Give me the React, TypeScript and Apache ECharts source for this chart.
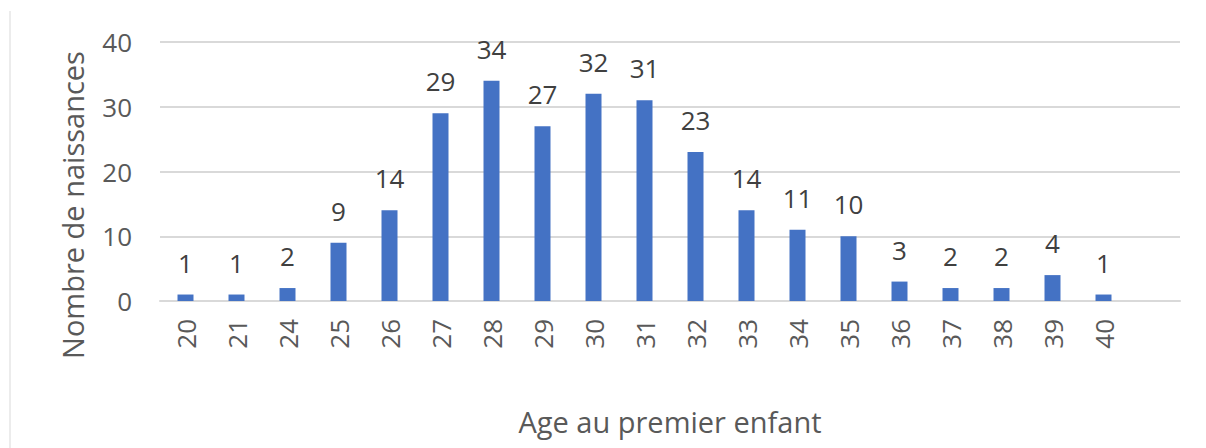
import React, { useEffect, useRef } from "react";
import * as echarts from "echarts";

const ages = ["20", "21", "24", "25", "26", "27", "28", "29", "30", "31", "32", "33", "34", "35", "36", "37", "38", "39", "40", ""];
const births = [1, 1, 2, 9, 14, 29, 34, 27, 32, 31, 23, 14, 11, 10, 3, 2, 2, 4, 1, null];
const yTicks = { min: 0, max: 40, interval: 10 };
const xTitle = "Age au premier enfant";
const yTitle = "Nombre de naissances";

const FONT = "'Open Sans', sans-serif";

export default function App() {
  const ref = useRef<HTMLDivElement>(null);
  useEffect(() => {
    if (!ref.current) return;
    const chart = echarts.init(ref.current, null, { renderer: "svg" });
    chart.setOption({
      animation: false,
      backgroundColor: "#ffffff",
      grid: { left: 160, right: 26, top: 42, bottom: 147, containLabel: false },
      xAxis: {
        type: "category",
        data: ages,
        axisLine: { lineStyle: { color: "#d9d9d9", width: 2 } },
        axisTick: { show: false },
        axisLabel: {
          rotate: 90,
          interval: 0,
          margin: 18,
          color: "#595959",
          fontSize: 26,
          fontFamily: FONT,
        },
      },
      yAxis: {
        type: "value",
        min: yTicks.min,
        max: yTicks.max,
        interval: yTicks.interval,
        axisLine: { show: false },
        axisTick: { show: false },
        axisLabel: { color: "#595959", fontSize: 26, fontFamily: FONT, margin: 28 },
        splitLine: { lineStyle: { color: "#d9d9d9", width: 2 } },
      },
      series: [
        {
          type: "bar",
          data: births,
          barWidth: 16,
          itemStyle: { color: "#4472C4" },
          label: {
            show: true,
            position: "top",
            distance: 19,
            color: "#404040",
            fontSize: 26,
            fontFamily: FONT,
          },
        },
      ],
      graphic: [
        {
          type: "line",
          shape: { x1: 10, y1: 11, x2: 10, y2: 448 },
          style: { stroke: "#d9d9d9", lineWidth: 1 },
        },
        {
          type: "text",
          x: 72,
          y: 205,
          rotation: Math.PI / 2,
          style: {
            text: yTitle,
            fill: "#595959",
            fontSize: 29,
            fontFamily: FONT,
            align: "center",
            verticalAlign: "middle",
          },
        },
        {
          type: "text",
          x: 670,
          y: 421,
          style: {
            text: xTitle,
            fill: "#595959",
            fontSize: 29,
            fontFamily: FONT,
            align: "center",
            verticalAlign: "middle",
          },
        },
      ],
    });
    return () => chart.dispose();
  }, []);
  return (
    <div
      ref={ref}
      style={{ position: "absolute", left: 0, top: 0, width: 1206, height: 448 }}
    />
  );
}
